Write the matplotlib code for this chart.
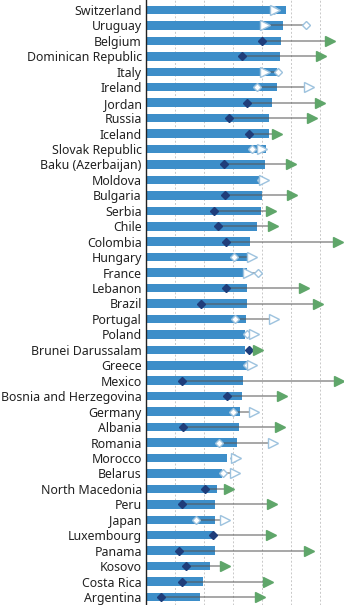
import numpy as np
import matplotlib
matplotlib.use("Agg")
import matplotlib.pyplot as plt

plt.rcParams['font.family'] = ['Noto Sans', 'DejaVu Sans']

# ---------------- Data ----------------
countries = [
    "Switzerland", "Uruguay", "Belgium", "Dominican Republic", "Italy", "Ireland",
    "Jordan", "Russia", "Iceland", "Slovak Republic", "Baku (Azerbaijan)", "Moldova",
    "Bulgaria", "Serbia", "Chile", "Colombia", "Hungary", "France", "Lebanon", "Brazil",
    "Portugal", "Poland", "Brunei Darussalam", "Greece", "Mexico",
    "Bosnia and Herzegovina", "Germany", "Albania", "Romania", "Morocco", "Belarus",
    "North Macedonia", "Peru", "Japan", "Luxembourg", "Panama", "Kosovo",
    "Costa Rica", "Argentina",
]
bar_values = [
    48.2, 47.1, 46.6, 46.2, 45.3, 45.1, 43.3, 42.4, 42.5, 41.3, 41.0, 40.4,
    40.1, 39.7, 38.4, 35.9, 35.3, 34.7, 34.9, 34.9, 34.5, 34.1, 34.1, 34.7,
    33.6, 33.2, 32.4, 32.1, 31.3, 27.8, 26.1, 24.4, 23.8, 23.8, 23.2, 23.8,
    22.1, 19.8, 18.6,
]
diamond_values = [
    44.0, 55.2, 39.9, 33.1, 45.4, 38.2, 34.8, 28.6, 35.5, 36.4, 26.9, 39.6,
    27.2, 23.4, 24.9, 27.6, 30.3, 38.7, 27.6, 18.9, 30.7, 34.7, 35.6, 34.9,
    12.5, 27.8, 30.1, 12.9, 25.2, 30.3, 26.4, 20.3, 12.3, 17.2, 23.2, 11.4,
    13.7, 12.5, 5.2,
]
triangle_values = [
    44.5, 41.0, 63.4, 60.3, 41.0, 56.2, 60.0, 57.1, 45.1, 39.9, 49.9, 40.7,
    50.4, 43.0, 43.7, 66.3, 36.7, 35.3, 54.5, 59.4, 44.1, 37.2, 38.7, 36.4,
    66.6, 46.8, 37.2, 46.2, 43.9, 31.0, 30.7, 28.6, 43.3, 27.2, 43.0, 56.3,
    27.2, 42.2, 39.3,
]
# True = significant (filled markers), False = not significant (hollow markers)
significant = [
    False, False, True, True, False, False, True, True, True, False, True, False,
    True, True, True, True, False, False, True, True, False, False, True, False,
    True, True, False, True, False, False, False, True, True, False, True, True,
    True, True, True,
]

# ---------------- Plot ----------------
BAR = '#3d8ec9'
NAVY = '#1f3d7a'
GREEN = '#5fa66a'
HOLLOW_EDGE = '#9dc2de'

fig = plt.figure(figsize=(3.44, 6.05), dpi=100)
ax = fig.add_axes([146 / 344, 0, 1 - 146 / 344, 1])

n = len(countries)
y = np.arange(n)

ax.barh(y, bar_values, height=0.55, color=BAR, zorder=2)

for i in range(n):
    d, t = diamond_values[i], triangle_values[i]
    ax.plot([d, t], [i, i], color='#555555', alpha=0.65, lw=1.1, zorder=3,
            solid_capstyle='butt')
    if significant[i]:
        ax.plot(d, i, marker='D', ms=4.5, color=NAVY, mec=NAVY, zorder=4)
        ax.plot(t, i, marker='>', ms=7.5, color=GREEN, mec=GREEN, zorder=5)
    else:
        ax.plot(d, i, marker='D', ms=4.5, mfc='white', mec=HOLLOW_EDGE, mew=1.0, zorder=4)
        ax.plot(t, i, marker='>', ms=7.5, mfc='white', mec=HOLLOW_EDGE, mew=1.0, zorder=5)

row_px = (597 - 10) / (n - 1)
top = -10 / row_px
bottom = (605 - 10) / row_px
ax.set_ylim(bottom, top)
ax.set_xlim(0, 198 / 2.9)

ax.set_yticks(y)
ax.set_yticklabels(countries, fontsize=8.9, color='#222222')
ax.tick_params(axis='y', length=0, pad=3)
ax.set_xticks([10, 20, 30, 40, 50, 60])
ax.tick_params(axis='x', length=0, labelbottom=False)
ax.grid(axis='x', color='#c8c8c8', linestyle=(0, (2, 2)), lw=0.7, zorder=0)
ax.set_axisbelow(True)

for s in ['top', 'right', 'bottom']:
    ax.spines[s].set_visible(False)
ax.spines['left'].set_color('#222222')
ax.spines['left'].set_linewidth(1.0)

fig.savefig("out.png", dpi=100)
